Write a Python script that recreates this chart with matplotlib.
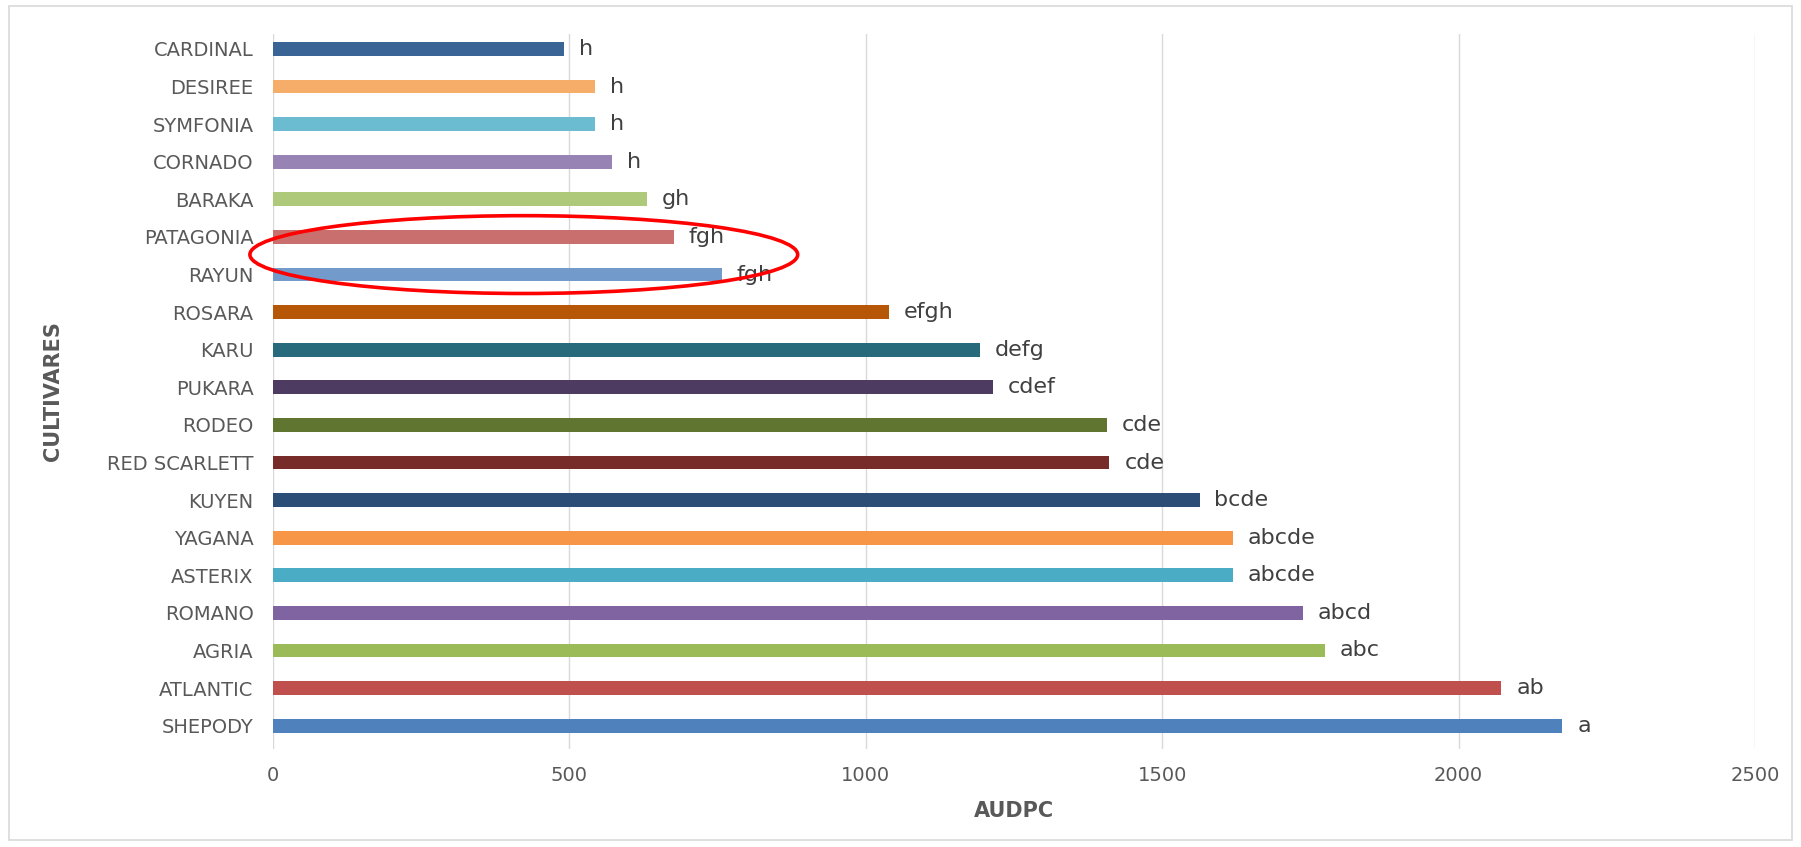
import matplotlib.pyplot as plt
from matplotlib.patches import Ellipse, Rectangle

# cultivars listed bottom to top
cultivars = ["SHEPODY", "ATLANTIC", "AGRIA", "ROMANO", "ASTERIX", "YAGANA",
             "KUYEN", "RED SCARLETT", "RODEO", "PUKARA", "KARU", "ROSARA",
             "RAYUN", "PATAGONIA", "BARAKA", "CORNADO", "SYMFONIA", "DESIREE",
             "CARDINAL"]
audpc = [2175, 2072, 1774, 1737, 1619, 1619, 1563, 1411, 1406, 1214, 1192,
         1039, 757, 676, 631, 572, 543, 543, 491]
letters = ["a", "ab", "abc", "abcd", "abcde", "abcde", "bcde", "cde", "cde",
           "cdef", "defg", "efgh", "fgh", "fgh", "gh", "h", "h", "h", "h"]
colors = ["#4f81bd", "#c0504d", "#9bbb59", "#8064a2", "#4bacc6", "#f79646",
          "#2c4d75", "#772c2a", "#5f7530", "#4d3b62", "#276a7c", "#b65708",
          "#729aca", "#c9706e", "#afc97a", "#9883b5", "#6bbcd0", "#f6ad6a",
          "#3a6396"]

# highlight around RAYUN / PATAGONIA
ring_center = (423, 12.53)
ring_size = (924, 2.07)

grey = "#595959"

fig = plt.figure(figsize=(18.01, 8.47), dpi=100)
ax = fig.add_axes([0.1516, 0.1157, 0.8229, 0.8443])

y = range(len(cultivars))
ax.barh(y, audpc, height=0.37, color=colors, zorder=2)
for i, (v, lab) in enumerate(zip(audpc, letters)):
    ax.text(v + 25, i, lab, va="center", ha="left", fontsize=16,
            color="#404040")

ax.set_xlim(0, 2500)
ax.set_ylim(-0.62, 18.4)
ax.set_xticks([0, 500, 1000, 1500, 2000, 2500])
ax.set_yticks(list(y))
ax.set_yticklabels(cultivars)
ax.tick_params(length=0, labelsize=14, labelcolor=grey, pad=14)
ax.tick_params(axis="x", pad=12)
ax.grid(axis="x", color="#d9d9d9", linewidth=1, zorder=0)
for s in ax.spines.values():
    s.set_visible(False)

ax.set_xlabel("AUDPC", fontsize=15, fontweight="bold", color=grey,
              labelpad=12)
ax.set_ylabel("CULTIVARES", fontsize=15, fontweight="bold", color=grey)
ax.yaxis.set_label_coords(-0.142, 0.5)

ax.add_patch(Ellipse(ring_center, ring_size[0], ring_size[1], fill=False,
                     edgecolor="#ff0000", linewidth=2.6, zorder=3,
                     clip_on=False))

# chart area frame
fig.patches.append(Rectangle((0.005, 0.008), 0.99, 0.985, fill=False,
                             edgecolor="#d9d9d9", linewidth=1.2,
                             transform=fig.transFigure))

fig.savefig("out.png", dpi=100)
